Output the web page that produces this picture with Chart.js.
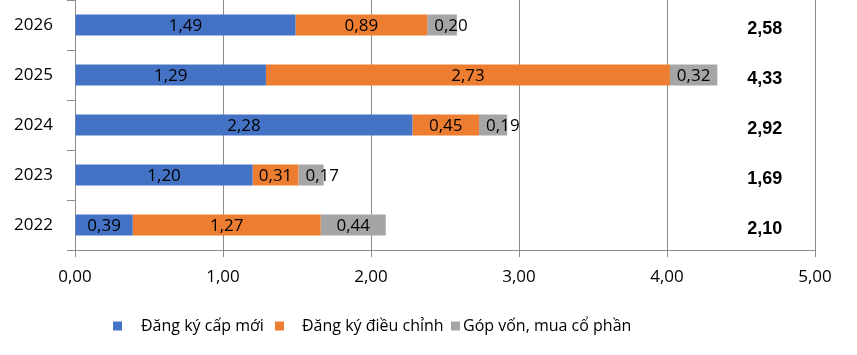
<!DOCTYPE html>
<html>
<head>
<meta charset="utf-8">
<script src="https://cdn.jsdelivr.net/npm/chart.js@4"></script>
<style>
  html, body { margin: 0; padding: 0; background: #fff; }
  #wrap { width: 857px; height: 355px; }
</style>
</head>
<body>
<div id="wrap"><canvas id="c" width="857" height="355"></canvas></div>
<script>
const categories = ['2026', '2025', '2024', '2023', '2022'];
const seriesNames = ['Đăng ký cấp mới', 'Đăng ký điều chỉnh', 'Góp vốn, mua cổ phần'];
const newReg = [1.49, 1.29, 2.28, 1.20, 0.39];
const adjustReg = [0.89, 2.73, 0.45, 0.31, 1.27];
const capitalContrib = [0.20, 0.32, 0.19, 0.17, 0.44];
const totals = ['2,58', '4,33', '2,92', '1,69', '2,10'];
const xTicks = [0, 1, 2, 3, 4, 5];

const colors = ['#4472C4', '#ED7D31', '#A5A5A5'];
const gridColor = '#8C8C8C';
const FONT = "'Open Sans', 'Noto Sans', sans-serif";
const fmt = v => v.toFixed(2).replace('.', ',');

const labelsPlugin = {
  id: 'segLabels',
  afterDatasetsDraw(chart) {
    const ctx = chart.ctx;
    ctx.save();
    ctx.font = '17px ' + FONT;
    ctx.fillStyle = '#000';
    ctx.textBaseline = 'middle';
    chart.data.datasets.forEach((ds, di) => {
      const meta = chart.getDatasetMeta(di);
      meta.data.forEach((el, i) => {
        const v = ds.data[i];
        const txt = fmt(v);
        const w = ctx.measureText(txt).width;
        const left = Math.min(el.x, el.base);
        const segW = Math.abs(el.x - el.base);
        if (w > segW - 2) {
          ctx.textAlign = 'left';
          ctx.fillText(txt, left + 7, el.y + 1);
        } else {
          ctx.textAlign = 'center';
          ctx.fillText(txt, left + segW / 2, el.y + 1);
        }
      });
    });
    // totals
    const xs = chart.scales.x, ys = chart.scales.y;
    ctx.font = "bold 18px 'Liberation Sans', Arial, sans-serif";
    ctx.textAlign = 'center';
    totals.forEach((t, i) => {
      ctx.fillText(t, xs.getPixelForValue(4.66), ys.getPixelForValue(i) + 4);
    });
    // legend
    ctx.font = '16px ' + FONT;
    ctx.textAlign = 'left';
    const boxX = [113, 275, 451];
    const textX = [141, 302, 463];
    const ly = 326;
    chart.data.datasets.forEach((ds, di) => {
      ctx.fillStyle = ds.backgroundColor;
      ctx.fillRect(boxX[di], ly - 4.5, 9, 9);
      ctx.fillStyle = '#000';
      ctx.fillText(ds.label, textX[di], ly);
    });
    ctx.restore();
  }
};

new Chart(document.getElementById('c'), {
  type: 'bar',
  data: {
    labels: categories,
    datasets: [
      { label: seriesNames[0], data: newReg, backgroundColor: colors[0] },
      { label: seriesNames[1], data: adjustReg, backgroundColor: colors[1] },
      { label: seriesNames[2], data: capitalContrib, backgroundColor: colors[2] }
    ]
  },
  options: {
    indexAxis: 'y',
    responsive: false,
    animation: false,
    devicePixelRatio: 1,
    layout: { padding: { left: 0, right: 42, top: 0, bottom: 55 } },
    datasets: { bar: { categoryPercentage: 1.0, barPercentage: 0.42, borderWidth: 0 } },
    plugins: { legend: { display: false }, tooltip: { enabled: false } },
    scales: {
      x: {
        stacked: true,
        min: 0, max: 5,
        afterBuildTicks(scale) { scale.ticks = xTicks.map(v => ({ value: v })); },
        afterFit(scale) {
          scale.height = 50;
          scale.paddingLeft = 0; scale.paddingRight = 0;
          scale.paddingTop = 0; scale.paddingBottom = 0;
        },
        grid: { color: gridColor, lineWidth: 1, tickLength: 7, drawOnChartArea: true },
        border: { display: true, color: gridColor, width: 1 },
        ticks: {
          padding: 10,
          color: '#000',
          font: { family: FONT, size: 17 },
          callback: v => fmt(v),
          maxRotation: 0
        }
      },
      y: {
        stacked: true,
        afterFit(scale) {
          scale.width = 75;
          scale.paddingTop = 0; scale.paddingBottom = 0;
          scale.paddingLeft = 0; scale.paddingRight = 0;
        },
        grid: { color: gridColor, lineWidth: 1, tickLength: 8, drawOnChartArea: false, offset: true },
        border: { display: true, color: gridColor, width: 1 },
        ticks: {
          padding: 14,
          color: '#000',
          font: { family: FONT, size: 17 }
        }
      }
    }
  },
  plugins: [labelsPlugin]
});
</script>
</body>
</html>
